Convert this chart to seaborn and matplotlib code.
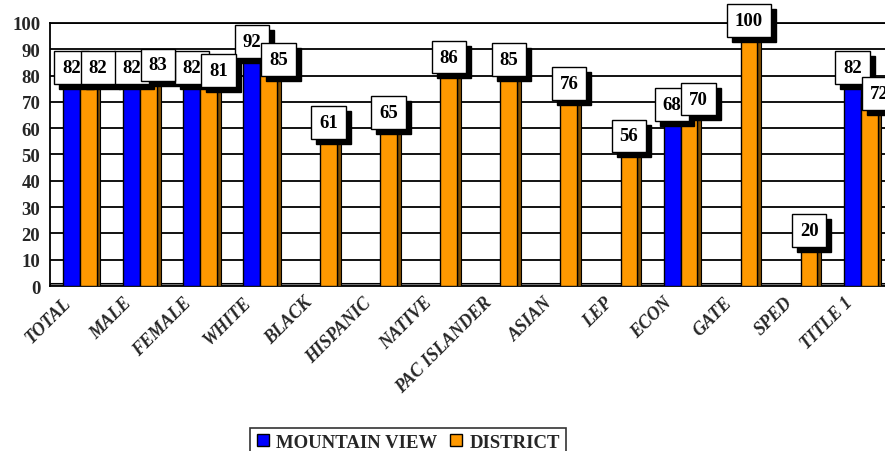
import numpy as np
import pandas as pd
import matplotlib
matplotlib.use("Agg")
import matplotlib.pyplot as plt
import matplotlib.transforms as mtransforms
import seaborn as sns
from matplotlib.patches import Rectangle
from matplotlib.lines import Line2D

groups = ["TOTAL", "MALE", "FEMALE", "WHITE", "BLACK", "HISPANIC", "NATIVE",
          "PAC ISLANDER", "ASIAN", "LEP", "ECON", "GATE", "SPED", "TITLE 1"]
mountain_view = [82, 82, 82, 92, np.nan, np.nan, np.nan, np.nan, np.nan, np.nan,
                 68, np.nan, np.nan, 82]
district = [82, 83, 81, 85, 61, 65, 86, 85, 76, 56, 70, 100, 20, 72]
series_names = ["MOUNTAIN VIEW", "DISTRICT"]
y_ticks = [0, 10, 20, 30, 40, 50, 60, 70, 80, 90, 100]

colors = ["#0000FF", "#FF9900"]
side_colors = ["#000080", "#804D00"]

df = pd.DataFrame({
    "group": groups + groups,
    "series": [series_names[0]] * len(groups) + [series_names[1]] * len(groups),
    "score": mountain_view + district,
})

sns.set_style("white")
plt.rcParams["font.family"] = ["Liberation Serif", "DejaVu Serif"]
plt.rcParams["font.weight"] = "bold"

fig = plt.figure(figsize=(8.85, 4.52), dpi=100)
ax = fig.add_axes([0.0565, 0.365, 0.95, 0.582])

sns.barplot(data=df, x="group", y="score", hue="series", order=groups,
            hue_order=series_names, palette=colors, width=0.56,
            edgecolor="black", linewidth=1, saturation=1, legend=False,
            ax=ax, zorder=3)

ax.set_xlim(-0.5, len(groups) - 0.5)
ax.set_ylim(0, 100)
ax.set_yticks(y_ticks)
ax.set_yticklabels([str(t) for t in y_ticks], fontsize=13.5, fontweight="bold")

# grid on back wall + floor
for t in y_ticks[1:]:
    ax.axhline(t, color="black", lw=1.3, zorder=1)
ax.axhspan(0, 1.0, facecolor="#777777", edgecolor="black", lw=0.8, zorder=1)

# category separators as minor ticks
ax.set_xticks(np.arange(len(groups)))
ax.set_xticks(np.arange(-0.5, len(groups)), minor=True)
ax.tick_params(axis="x", which="major", length=0, pad=4)
ax.tick_params(axis="x", which="minor", length=6, width=1.2, color="black", direction="out")
ax.tick_params(axis="y", length=5, width=1.2, color="black", direction="out", pad=2)
ax.set_xticklabels(groups, rotation=45, ha="right", va="center", rotation_mode="anchor",
                   fontsize=13, fontweight="bold", fontstyle="italic")
shift = mtransforms.ScaledTranslation(-0.11, -0.08, fig.dpi_scale_trans)
for lab in ax.get_xticklabels():
    lab.set_transform(lab.get_transform() + shift)
ax.set_xlabel("")
ax.set_ylabel("")

for side in ["left", "bottom", "top"]:
    ax.spines[side].set_color("black")
    ax.spines[side].set_linewidth(1.3)
ax.spines["right"].set_visible(False)

# dark side faces and value boxes
has_both = [not np.isnan(m) for m in mountain_view]
for s, cont in enumerate(ax.containers):
    for bar in cont:
        h = bar.get_height()
        if np.isnan(h):
            continue
        x = bar.get_x()
        w = bar.get_width()
        ax.add_patch(Rectangle((x + w, 0), 0.06, h, facecolor=side_colors[s],
                               edgecolor="black", lw=0.8, zorder=2.9))
        idx = int(round(x + w / 2 + (0.14 if s == 0 else -0.14)))
        dx = 7 if (s == 1 and has_both[idx]) else 0
        cx = x + w / 2
        ax.annotate(f"{int(h)}", (cx, h), xytext=(dx + 3.6, 2 - 3.6),
                    textcoords="offset points", ha="center", va="center",
                    fontsize=13.5, fontweight="bold", color="black",
                    bbox=dict(boxstyle="square,pad=0.42", fc="black", ec="black"),
                    zorder=5, annotation_clip=False)
        ax.annotate(f"{int(h)}", (cx, h), xytext=(dx, 2),
                    textcoords="offset points", ha="center", va="center",
                    fontsize=13.5, fontweight="bold", color="black",
                    bbox=dict(boxstyle="square,pad=0.42", fc="white", ec="black", lw=1),
                    zorder=6, annotation_clip=False)

handles = [Line2D([0], [0], marker="s", linestyle="none", markersize=9,
                  markerfacecolor=c, markeredgecolor="black") for c in colors]
leg = fig.legend(handles, series_names, loc="upper center",
                 bbox_to_anchor=(0.461, 0.072), ncol=2, frameon=True,
                 fancybox=False, edgecolor="black", handlelength=0.8,
                 handletextpad=0.3, columnspacing=0.6, borderpad=0.3,
                 prop={"weight": "bold", "size": 13.5})
leg.get_frame().set_linewidth(1.2)

fig.savefig("out.png", dpi=100)
